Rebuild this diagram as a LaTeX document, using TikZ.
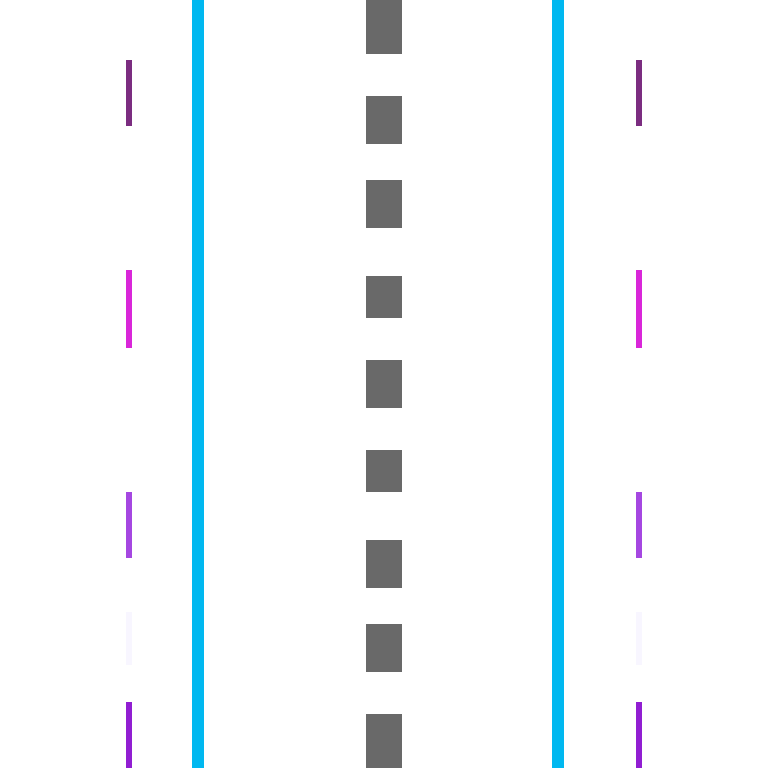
\documentclass[tikz,border=0pt]{standalone}
\definecolor{lanecyan}{RGB}{0,184,240}
\definecolor{dashgray}{RGB}{105,105,105}
\definecolor{barA}{RGB}{123,45,128}
\definecolor{barB}{RGB}{217,38,217}
\definecolor{barC}{RGB}{165,71,225}
\definecolor{barD}{RGB}{248,246,255}
\definecolor{barE}{RGB}{145,30,210}
\begin{document}
\begin{tikzpicture}[x=1pt,y=-1pt,
  laneline/.style={fill=lanecyan},
  dashbox/.style={fill=dashgray},
  sidebar/.style={fill=#1}]
\useasboundingbox (0,0) rectangle (768,768);
\fill[white] (0,0) rectangle (768,768);
% lane lines
\fill[laneline] (192,0) rectangle (204,768);
\fill[laneline] (552,0) rectangle (564,768);
% center dashes
\foreach \a/\b in {0/54,96/144,180/228,276/318,360/408,450/492,540/588,624/672,714/768}
  \fill[dashbox] (366,\a) rectangle (402,\b);
% side bars
\foreach \a/\b/\c in {60/126/barA,270/348/barB,492/558/barC,612/665/barD,702/768/barE}{
  \fill[sidebar=\c] (126,\a) rectangle (132,\b);
  \fill[sidebar=\c] (636,\a) rectangle (642,\b);
}
\end{tikzpicture}
\end{document}
